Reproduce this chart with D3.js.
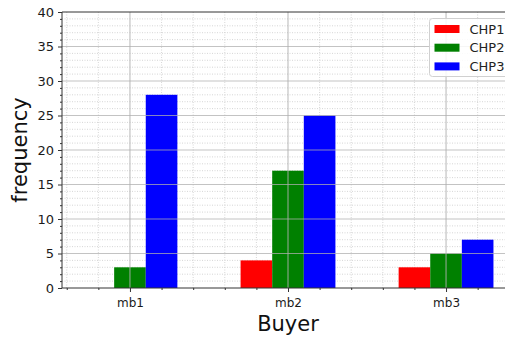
<!DOCTYPE html>
<html>
<head>
<meta charset="utf-8">
<script src="https://cdn.jsdelivr.net/npm/d3@7"></script>
<style>
  html, body { margin: 0; padding: 0; background: #fff; }
  svg { display: block; font-family: "DejaVu Sans", sans-serif; }
</style>
</head>
<body>
<svg id="chart" width="505" height="338"></svg>
<script>
// Buyer categories and the three CHP series (frequency counts)
const buyers = ["mb1", "mb2", "mb3"];
const seriesNames = ["CHP1", "CHP2", "CHP3"];
const seriesColors = ["#ff0000", "#008000", "#0000ff"];
const chp1 = [0, 4, 3];
const chp2 = [3, 17, 5];
const chp3 = [28, 25, 7];
const yTicks = [0, 5, 10, 15, 20, 25, 30, 35, 40];

const series = [chp1, chp2, chp3];
const barWidth = 0.2;
const offsets = [-0.2, 0, 0.2];

const svg = d3.select("#chart");
const pLeft = 62, pRight = 514, pTop = 12, pBottom = 288;

// Numeric x positions: category i sits at i, padded like a default margin
const x = d3.scaleLinear().domain([-0.43, 2.43]).range([pLeft, pRight]);
const y = d3.scaleLinear().domain([0, 40]).range([pBottom, pTop]);

const minorY = d3.range(1, 40).filter(v => v % 5 !== 0);
const minorX = d3.range(-2, 13).map(k => k * 0.2)
  .filter(v => Math.abs(v - Math.round(v)) > 1e-6 && v > -0.43 && v < 2.43);

// Minor grid (dotted, behind the bars)
const minorGrid = svg.append("g");
minorGrid.selectAll(".my").data(minorY).enter().append("line")
  .attr("x1", pLeft).attr("x2", pRight)
  .attr("y1", d => y(d)).attr("y2", d => y(d))
  .attr("stroke", "#c4c4c4").attr("stroke-width", 0.7)
  .attr("stroke-dasharray", "1,1.5");
minorGrid.selectAll(".mx").data(minorX).enter().append("line")
  .attr("y1", pTop).attr("y2", pBottom)
  .attr("x1", d => x(d)).attr("x2", d => x(d))
  .attr("stroke", "#c4c4c4").attr("stroke-width", 0.7)
  .attr("stroke-dasharray", "1,1.5");

// Bars
const plot = svg.append("g");
series.forEach((vals, s) => {
  plot.selectAll(null)
    .data(vals.map((v, i) => ({ v, i })))
    .enter()
    .append("rect")
    .attr("x", d => x(d.i + offsets[s] - barWidth / 2))
    .attr("width", d => x(d.i + offsets[s] + barWidth / 2) - x(d.i + offsets[s] - barWidth / 2))
    .attr("y", d => y(d.v))
    .attr("height", d => y(0) - y(d.v))
    .attr("fill", seriesColors[s]);
});

// Major grid drawn over the bars
const grid = svg.append("g");
grid.selectAll(".My").data(yTicks.filter(v => v > 0 && v < 40)).enter().append("line")
  .attr("x1", pLeft).attr("x2", pRight)
  .attr("y1", d => y(d)).attr("y2", d => y(d))
  .attr("stroke", "#b0b0b0").attr("stroke-width", 1.2).attr("opacity", 0.75);
grid.selectAll(".Mx").data(buyers.map((b, i) => i)).enter().append("line")
  .attr("y1", pTop).attr("y2", pBottom)
  .attr("x1", d => x(d)).attr("x2", d => x(d))
  .attr("stroke", "#b0b0b0").attr("stroke-width", 1.2).attr("opacity", 0.75);

// Axes
const yAxis = d3.axisLeft(y).tickValues(yTicks).tickSize(4).tickPadding(4);
const yAxisMinor = d3.axisLeft(y).tickValues(minorY).tickSize(2).tickFormat("");
const xAxis = d3.axisBottom(x).tickValues(buyers.map((b, i) => i))
  .tickFormat((d, i) => buyers[i]).tickSize(4).tickPadding(6);
const xAxisMinor = d3.axisBottom(x).tickValues(minorX).tickSize(2).tickFormat("");

function styleAxis(g) {
  g.select(".domain").remove();
  g.selectAll("line").attr("stroke", "#333");
  g.selectAll("text").attr("fill", "#1a1a1a").attr("font-family", "DejaVu Sans, sans-serif");
}

svg.append("g").attr("transform", `translate(${pLeft},0)`).call(yAxis).call(styleAxis)
  .selectAll("text").attr("font-size", 13);
svg.append("g").attr("transform", `translate(${pLeft},0)`).call(yAxisMinor).call(styleAxis);
svg.append("g").attr("transform", `translate(0,${pBottom})`).call(xAxis).call(styleAxis)
  .selectAll("text").attr("font-size", 12);
svg.append("g").attr("transform", `translate(0,${pBottom})`).call(xAxisMinor).call(styleAxis);

// Spines
[[pLeft, pTop, pLeft, pBottom], [pLeft, pBottom, pRight, pBottom],
 [pLeft, pTop, pRight, pTop], [pRight, pTop, pRight, pBottom]].forEach(([x1, y1, x2, y2]) => {
  svg.append("line").attr("x1", x1).attr("y1", y1).attr("x2", x2).attr("y2", y2)
    .attr("stroke", "#333").attr("stroke-width", 1);
});

// Axis titles
svg.append("text")
  .attr("transform", `translate(27,${(pTop + pBottom) / 2}) rotate(-90)`)
  .attr("text-anchor", "middle")
  .attr("font-size", 21).attr("fill", "#111")
  .text("frequency");
svg.append("text")
  .attr("x", x(1)).attr("y", 331)
  .attr("text-anchor", "middle")
  .attr("font-size", 21).attr("fill", "#111")
  .text("Buyer");

// Legend
const legend = svg.append("g").attr("transform", "translate(429.5,18.5)");
legend.append("rect")
  .attr("width", 84).attr("height", 58).attr("rx", 3)
  .attr("fill", "#fff").attr("fill-opacity", 0.85)
  .attr("stroke", "#d0d0d0").attr("stroke-width", 1);
seriesNames.forEach((name, i) => {
  const row = legend.append("g").attr("transform", `translate(5,${6.5 + i * 18.7})`);
  row.append("rect").attr("width", 25).attr("height", 8).attr("fill", seriesColors[i]);
  row.append("text").attr("x", 35).attr("y", 8.5)
    .attr("font-size", 13).attr("fill", "#222").text(name);
});
</script>
</body>
</html>
